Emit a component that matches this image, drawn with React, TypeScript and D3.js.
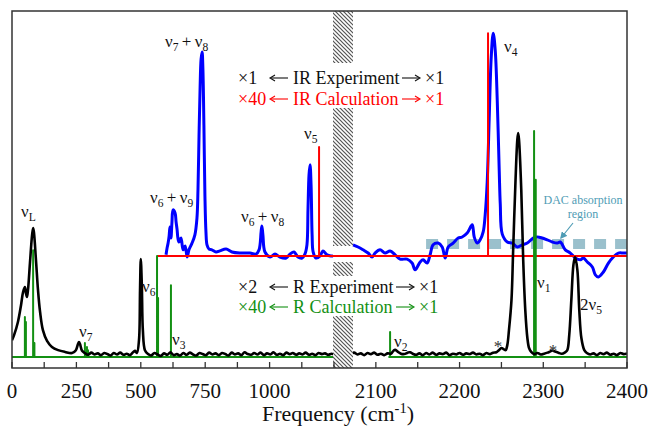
import React from 'react';
import * as d3 from 'd3';

const W = 650;
const H = 427;
const FRAME = { left: 12, right: 627, top: 11, bottom: 368, breakX: 334 };

// x axis: broken into two segments
const leftDomain: [number, number] = [0, 1250];
const rightDomain: [number, number] = [2050, 2400];
const leftTicks = [0, 125, 250, 375, 500, 625, 750, 875, 1000, 1125, 1250];
const leftTickLabels = [0, 250, 500, 750, 1000];
const rightTicks = [2100, 2150, 2200, 2250, 2300, 2350, 2400];
const rightTickLabels = [2100, 2200, 2300, 2400];

// Raman experiment (black), [frequency, intensity]
const ramanExpLeft: [number, number][] = [
  [0, 7.8], [8, 9.2], [23, 12.9], [35, 17.6], [43, 21.3], [50, 22.7], [54, 21.0], [58, 19.9], [62, 21.8],
  [70, 29.7], [78, 37.3], [82, 39.2], [85, 38.1], [93, 30.3], [101, 21.8], [109, 15.7], [120, 10.6],
  [136, 7.6], [155, 5.9], [179, 5.0], [206, 4.5], [233, 4.2], [248, 5.0], [256, 6.7], [260, 7.3],
  [264, 6.7], [272, 4.8], [283, 4.2], [295, 3.7], [308, 4.3], [320, 3.8], [333, 4.1], [345, 3.6],
  [358, 4.2], [370, 3.9], [383, 3.5], [395, 4.2], [408, 3.8], [420, 4.3], [433, 3.7], [445, 4.0],
  [458, 3.6], [470, 4.4], [478, 4.8], [485, 4.2], [493, 7.8], [497, 21.8], [500, 30.5], [504, 23.2],
  [508, 10.6], [516, 5.0], [528, 3.9], [540, 3.5], [553, 4.2], [565, 3.8], [578, 3.4], [590, 4.1],
  [603, 3.7], [615, 4.4], [628, 3.6], [640, 3.9], [653, 3.5], [665, 4.2], [678, 3.7], [690, 4.3],
  [703, 3.8], [715, 3.5], [728, 4.2], [740, 3.9], [753, 3.6], [765, 4.3], [778, 3.8], [790, 4.1],
  [803, 3.6], [815, 4.2], [828, 3.9], [840, 3.5], [853, 4.3], [865, 3.8], [878, 4.1], [890, 3.6],
  [903, 4.4], [915, 3.9], [928, 3.7], [940, 4.2], [953, 3.8], [965, 4.3], [978, 3.6], [990, 4.1],
  [1003, 3.8], [1015, 4.4], [1028, 3.7], [1040, 4.0], [1053, 3.6], [1065, 4.3], [1078, 3.9], [1090, 4.2],
  [1103, 3.7], [1115, 4.1], [1128, 3.8], [1140, 4.3], [1153, 3.7], [1165, 4.0], [1178, 3.6], [1190, 4.2],
  [1203, 3.9], [1215, 4.1], [1228, 3.7], [1240, 4.0], [1250, 3.8],
];
const ramanExpRight: [number, number][] = [
  [2050, 3.9], [2054, 4.2], [2058, 3.7], [2062, 4.1], [2066, 3.6], [2070, 4.0], [2074, 4.3], [2078, 3.8],
  [2082, 4.1], [2086, 3.6], [2090, 4.2], [2094, 3.9], [2098, 4.3], [2102, 3.7], [2106, 4.0], [2110, 3.6],
  [2114, 4.1], [2118, 4.0], [2121, 4.8], [2123, 5.1], [2126, 4.6], [2130, 4.0], [2134, 3.9], [2138, 4.3],
  [2141, 4.4], [2144, 4.0], [2148, 3.7], [2152, 4.1], [2156, 3.6], [2160, 4.2], [2164, 3.8], [2168, 4.3],
  [2172, 3.7], [2176, 4.1], [2180, 3.9], [2184, 4.3], [2188, 3.6], [2192, 4.0], [2196, 3.8], [2200, 4.2],
  [2204, 3.7], [2208, 4.1], [2212, 3.9], [2216, 4.3], [2220, 3.8], [2224, 4.0], [2228, 3.6], [2232, 4.2],
  [2236, 3.9], [2240, 4.3], [2244, 4.4], [2247, 5.0], [2250, 5.6], [2253, 5.2], [2255, 5.0], [2257, 6.4],
  [2259, 10.6], [2262, 19.0], [2264, 33.0], [2266.6, 51.0], [2269, 64.0], [2270, 65.8], [2271, 64.0],
  [2273.7, 49.9], [2276, 30.3], [2278.5, 16.2], [2281, 8.4], [2283, 5.6], [2285.6, 4.5], [2289, 3.9],
  [2293, 4.2], [2297, 3.8], [2301, 4.0], [2305, 4.3], [2308, 4.6], [2311, 4.9], [2314, 4.6], [2318, 4.3],
  [2322, 4.0], [2326, 4.4], [2328.7, 5.0], [2331, 9.2], [2333.5, 19.0], [2336, 28.9], [2338, 31.1],
  [2340.7, 27.5], [2343, 16.2], [2345.5, 8.4], [2349, 5.0], [2352, 4.2], [2356, 3.8], [2360, 4.1],
  [2364, 3.6], [2368, 4.2], [2372, 3.9], [2376, 4.3], [2380, 3.7], [2384, 4.0], [2388, 3.6], [2392, 4.2],
  [2396, 3.9], [2400, 4.1],
];

// IR experiment (blue)
const irExpLeft: [number, number][] = [
  [598, 31.7], [602, 33.6], [606, 35.0], [610, 37.0], [613, 39.5], [617, 36.4], [621, 40.9], [625, 44.3],
  [633, 43.4], [637, 40.9], [641, 38.7], [644, 36.4], [648, 35.3], [656, 36.4], [664, 33.1], [672, 34.2],
  [680, 31.1], [687, 33.1], [699, 35.0], [710, 37.3], [718, 42.0], [722, 50.0], [726, 65.0], [730, 78.0],
  [734, 86.5], [738, 88.5], [741, 84.0], [745, 68.0], [749, 48.0], [753, 38.0], [757, 34.5], [765, 33.3],
  [776, 33.1], [792, 32.5], [807, 32.8], [831, 33.3], [854, 32.5], [885, 32.2], [924, 32.2], [947, 31.9],
  [959, 33.1], [967, 38.1], [970, 39.8], [974, 37.3], [982, 32.5], [1002, 31.1], [1021, 31.9], [1040, 31.1],
  [1064, 30.8], [1079, 31.9], [1095, 32.5], [1110, 31.1], [1126, 30.8], [1137, 31.9], [1145, 34.5],
  [1149, 44.3], [1153, 54.1], [1157, 56.9], [1161, 51.3], [1165, 37.3], [1169, 32.5], [1180, 30.8],
  [1196, 31.4], [1207, 32.8], [1223, 31.7], [1238, 31.4], [1246, 31.4],
];
const irExpRight: [number, number][] = [
  [2072.7, 34.5], [2078.7, 33.9], [2084.7, 33.1], [2090.7, 32.2], [2095.5, 31.1], [2099, 32.2], [2105, 33.1],
  [2111, 32.2], [2117, 32.8], [2123, 31.7], [2129, 30.5], [2137.3, 30.5], [2143.3, 29.4], [2146.9, 27.5],
  [2152.9, 29.7], [2156.5, 30.3], [2161.2, 29.4], [2164.8, 31.7], [2168.4, 34.5], [2174.4, 35.0],
  [2179.2, 33.9], [2182.8, 30.8], [2186.4, 33.9], [2192.3, 35.0], [2198.3, 36.4], [2203.1, 36.7],
  [2209.1, 37.8], [2215.1, 40.1], [2217.5, 36.7], [2221.1, 35.0], [2224.6, 35.9], [2228.2, 38.1],
  [2230.6, 42.9], [2233, 52.0], [2235.4, 70.0], [2237.8, 87.0], [2240.2, 93.8], [2242.6, 89.0],
  [2245, 75.0], [2247.4, 55.0], [2248.6, 46.0], [2251, 37.5], [2257, 35.3], [2263, 35.0], [2269, 33.9],
  [2274.9, 34.5], [2280.9, 35.0], [2288, 36.4], [2292.8, 36.7], [2298.8, 36.4], [2304.8, 35.9],
  [2310.8, 35.3], [2316.7, 35.0], [2320.3, 35.3], [2326.3, 33.1], [2332.3, 32.2], [2338.3, 30.8],
  [2344.3, 30.3], [2347.8, 30.8], [2352.6, 29.7], [2358.6, 28.3], [2362.2, 26.1], [2365.8, 25.5],
  [2371.8, 26.9], [2377.8, 29.4], [2383.7, 31.1], [2389.7, 32.2], [2395.7, 32.2], [2400, 32.2],
];

// Raman calculation (green) sticks on a baseline
const ramanCalcBase = 3.1;
const ramanCalcLeftSpan: [number, number] = [0, 1250];
const ramanCalcRightSpan: [number, number] = [2115, 2400];
const ramanCalcSticks: [number, number][] = [
  [50, 14.3], [54, 12.9], [82, 33.0], [87, 7.0], [283, 7.0], [291, 5.9], [295, 5.0],
  [563, 31.4], [567, 19.6], [617, 23.2], [2117, 10.1], [2289, 66.4], [2291, 52.7],
];

// IR calculation (red) sticks on a baseline
const irCalcBase = 31.4;
const irCalcLeftSpan: [number, number] = [563, 1250];
const irCalcRightSpan: [number, number] = [2050, 2400];
const irCalcSticks: [number, number][] = [[1192, 61.9], [2234, 93.8]];

// DAC absorption region
const dacSpan: [number, number] = [2160, 2400];
const dacLevel = 34.7;

const SERIF = "'Liberation Serif', 'Times New Roman', serif";
const GREEN = '#139013';
const RED = '#ff0000';
const INK = '#111';

const xL = d3.scaleLinear().domain(leftDomain).range([FRAME.left, FRAME.breakX]);
const xR = d3.scaleLinear().domain(rightDomain).range([FRAME.breakX, FRAME.right]);
const y = d3.scaleLinear().domain([0, 100]).range([FRAME.bottom, FRAME.top]);

function smoothPath(data: [number, number][], x: d3.ScaleLinear<number, number>) {
  return d3
    .line<[number, number]>()
    .x((d) => x(d[0]))
    .y((d) => y(d[1]))
    .curve(d3.curveCatmullRom.alpha(0.5))(data) as string;
}

function stickPath(span: [number, number], base: number, sticks: [number, number][], x: d3.ScaleLinear<number, number>) {
  const inSpan = sticks.filter((s) => s[0] >= span[0] && s[0] <= span[1]).sort((a, b) => a[0] - b[0]);
  const pts: [number, number][] = [[span[0], base]];
  inSpan.forEach(([f, v]) => {
    pts.push([f, base], [f, v], [f, base]);
  });
  pts.push([span[1], base]);
  return d3.line<[number, number]>().x((d) => x(d[0])).y((d) => y(d[1]))(pts) as string;
}

function Nu({ x, yy, sub, pre = '', size = 17 }: { x: number; yy: number; sub: string; pre?: string; size?: number }) {
  return (
    <text x={x} y={yy} fontFamily={SERIF} fontSize={size} fill={INK}>
      {pre}ν<tspan fontSize={size * 0.68} dy={4}>{sub}</tspan>
    </text>
  );
}

function NuSum({ x, yy, a, b }: { x: number; yy: number; a: string; b: string }) {
  return (
    <text x={x} y={yy} fontFamily={SERIF} fontSize={17} fill={INK}>
      ν<tspan fontSize={11.5} dy={4}>{a}</tspan>
      <tspan dy={-4}>{'\u2009+\u2009'}ν</tspan>
      <tspan fontSize={11.5} dy={4}>{b}</tspan>
    </text>
  );
}

function Arrow({ x1, x2, yy, color }: { x1: number; x2: number; yy: number; color: string }) {
  const dir = x2 > x1 ? 1 : -1;
  const hx = x2 - dir * 5;
  return (
    <g>
      <line x1={x1} x2={x2 - dir * 1} y1={yy} y2={yy} stroke={color} strokeWidth={1.1} />
      <path d={`M${hx},${yy - 3} L${x2},${yy} L${hx},${yy + 3}`} fill="none" stroke={color} strokeWidth={1.1} />
    </g>
  );
}

function LegendRow({
  yy, mult, label, arrowEnd, color,
}: { yy: number; mult: string; label: string; arrowEnd: number; color: string }) {
  const ay = yy - 6;
  return (
    <g fontFamily={SERIF} fontSize={18} fill={color}>
      <text x={238} y={yy}>{mult}</text>
      <Arrow x1={288} x2={270} yy={ay} color={color} />
      <text x={293} y={yy}>{label}</text>
      <Arrow x1={arrowEnd - 18} x2={arrowEnd} yy={ay} color={color} />
      <text x={arrowEnd + 5} y={yy}>×1</text>
    </g>
  );
}

const hatchBands: [number, number][] = [[11, 63], [108, 246], [262, 276], [316, 368]];

export default function App() {
  return (
    <svg width={W} height={H} style={{ position: 'absolute', left: 0, top: 0, background: '#fff' }}>
      <defs>
        <clipPath id="clipL">
          <rect x={FRAME.left} y={FRAME.top} width={FRAME.breakX - FRAME.left} height={FRAME.bottom - FRAME.top} />
        </clipPath>
        <clipPath id="clipR">
          <rect x={FRAME.breakX} y={FRAME.top} width={FRAME.right - FRAME.breakX} height={FRAME.bottom - FRAME.top} />
        </clipPath>
        <pattern id="hatch" patternUnits="userSpaceOnUse" width={4} height={4}>
          <rect width={4} height={4} fill="#fff" />
          <path d="M0,0 L4,4 M-1,3 L1,5 M3,-1 L5,1" stroke="#555" strokeWidth={1.2} />
        </pattern>
        <marker id="dacArrow" viewBox="0 0 10 10" refX={8} refY={5} markerWidth={6} markerHeight={6} orient="auto">
          <path d="M0,0 L10,5 L0,10 z" fill="#4f9cb5" />
        </marker>
      </defs>

      {/* DAC absorption band */}
      <line
        x1={xR(dacSpan[0])}
        x2={xR(dacSpan[1])}
        y1={y(dacLevel)}
        y2={y(dacLevel)}
        stroke="#9ac0cc"
        strokeWidth={10}
        strokeDasharray="12 9"
      />

      <g clipPath="url(#clipL)" fill="none" strokeLinejoin="round">
        <path d={smoothPath(irExpLeft, xL)} stroke="#0000ff" strokeWidth={3} />
        <path d={stickPath(irCalcLeftSpan, irCalcBase, irCalcSticks, xL)} stroke={RED} strokeWidth={2} />
        <path d={stickPath(ramanCalcLeftSpan, ramanCalcBase, ramanCalcSticks, xL)} stroke={GREEN} strokeWidth={2} />
        <path d={smoothPath(ramanExpLeft, xL)} stroke="#000" strokeWidth={2.6} />
      </g>
      <g clipPath="url(#clipR)" fill="none" strokeLinejoin="round">
        <path d={smoothPath(irExpRight, xR)} stroke="#0000ff" strokeWidth={3} />
        <path d={stickPath(irCalcRightSpan, irCalcBase, irCalcSticks, xR)} stroke={RED} strokeWidth={2} />
        <path d={stickPath(ramanCalcRightSpan, ramanCalcBase, ramanCalcSticks, xR)} stroke={GREEN} strokeWidth={2} />
        <path d={smoothPath(ramanExpRight, xR)} stroke="#000" strokeWidth={2.6} />
      </g>

      {/* axis break hatch */}
      {hatchBands.map(([a, b], i) => (
        <rect key={i} x={333} y={a} width={20} height={b - a} fill="url(#hatch)" />
      ))}

      {/* frame */}
      <rect
        x={FRAME.left}
        y={FRAME.top}
        width={FRAME.right - FRAME.left}
        height={FRAME.bottom - FRAME.top}
        fill="none"
        stroke="#333"
        strokeWidth={1.5}
      />

      {/* ticks */}
      {leftTicks.map((t) => (
        <line key={'lt' + t} x1={xL(t)} x2={xL(t)} y1={FRAME.bottom} y2={FRAME.bottom - 6} stroke="#333" strokeWidth={1.3} />
      ))}
      {rightTicks.map((t) => (
        <line key={'rt' + t} x1={xR(t)} x2={xR(t)} y1={FRAME.bottom} y2={FRAME.bottom - 6} stroke="#333" strokeWidth={1.3} />
      ))}
      {leftTickLabels.map((t) => (
        <text key={'ll' + t} x={xL(t)} y={398} textAnchor="middle" fontFamily={SERIF} fontSize={21} fill={INK}>
          {t}
        </text>
      ))}
      {rightTickLabels.map((t) => (
        <text key={'rl' + t} x={xR(t)} y={398} textAnchor="middle" fontFamily={SERIF} fontSize={21} fill={INK}>
          {t}
        </text>
      ))}
      <text x={338} y={421} textAnchor="middle" fontFamily={SERIF} fontSize={22} fill={INK}>
        Frequency (cm<tspan fontSize={14.5} dy={-8}>-1</tspan>
        <tspan dy={8}>)</tspan>
      </text>

      {/* legend-like annotations */}
      <LegendRow yy={84} mult="×1" label="IR Experiment" arrowEnd={420} color={INK} />
      <LegendRow yy={105} mult="×40" label="IR Calculation" arrowEnd={420} color={RED} />
      <LegendRow yy={293} mult="×2" label="R Experiment" arrowEnd={414} color={INK} />
      <LegendRow yy={313} mult="×40" label="R Calculation" arrowEnd={414} color={GREEN} />

      {/* peak labels */}
      <NuSum x={165} yy={47} a="7" b="8" />
      <NuSum x={150} yy={203} a="6" b="9" />
      <NuSum x={241} yy={222} a="6" b="8" />
      <Nu x={21} yy={217} sub="L" />
      <Nu x={79} yy={337} sub="7" />
      <Nu x={142} yy={292} sub="6" />
      <Nu x={172} yy={345} sub="3" />
      <Nu x={304} yy={139} sub="5" />
      <Nu x={504} yy={52} sub="4" />
      <Nu x={394} yy={347} sub="2" />
      <Nu x={537} yy={288} sub="1" />
      <Nu x={580} yy={310} sub="5" pre="2" />
      <text x={498} y={352} textAnchor="middle" fontFamily={SERIF} fontSize={17} fill="#333">*</text>
      <text x={553} y={356} textAnchor="middle" fontFamily={SERIF} fontSize={17} fill="#333">*</text>

      {/* DAC label */}
      <g fontFamily={SERIF} fontSize={12} fill="#4f9cb5" textAnchor="middle">
        <text x={583} y={204}>DAC absorption</text>
        <text x={583} y={218}>region</text>
      </g>
      <line x1={573} y1={223} x2={561} y2={238} stroke="#4f9cb5" strokeWidth={1.2} markerEnd="url(#dacArrow)" />
    </svg>
  );
}
